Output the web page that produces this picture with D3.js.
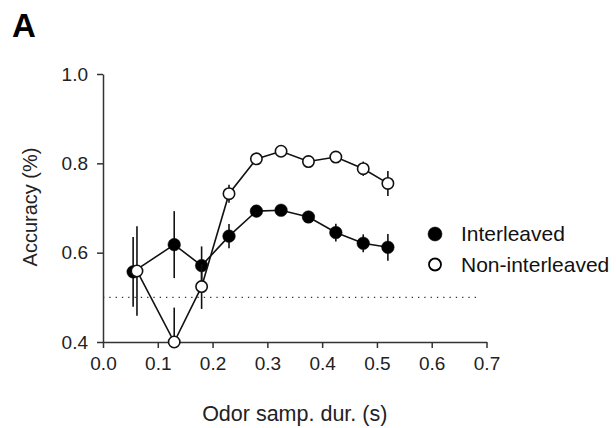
<!DOCTYPE html>
<html>
<head>
<meta charset="utf-8">
<script src="https://cdn.jsdelivr.net/npm/d3@7"></script>
<style>
  body { margin: 0; background: #fff; }
  svg { display: block; font-family: "Liberation Sans", Arial, sans-serif; }
</style>
</head>
<body>
<div id="chart"></div>
<script>
// sampling duration (s) and accuracy
var xInter = [0.055, 0.13, 0.18, 0.23, 0.28, 0.325, 0.375, 0.425, 0.475, 0.52];
var yInter = [0.557, 0.618, 0.571, 0.637, 0.693, 0.695, 0.680, 0.645, 0.621, 0.612];
var eInter = [0.078, 0.075, 0.043, 0.027, 0.012, 0.012, 0.012, 0.02, 0.02, 0.03];

var xNon = [0.062, 0.13, 0.18, 0.23, 0.28, 0.325, 0.375, 0.425, 0.475, 0.52];
var yNon = [0.559, 0.40, 0.524, 0.732, 0.810, 0.827, 0.804, 0.814, 0.788, 0.755];
var eNon = [0.10, 0.077, 0.05, 0.02, 0.01, 0.01, 0.01, 0.01, 0.016, 0.028];

var xTicks = [0, 0.1, 0.2, 0.3, 0.4, 0.5, 0.6, 0.7];
var yTicks = [0.4, 0.6, 0.8, 1.0];
var chance = 0.5;
var legendLabels = ["Interleaved", "Non-interleaved"];

var width = 616, height = 428;

var svg = d3.select("#chart").append("svg")
  .attr("width", width)
  .attr("height", height);

var x = d3.scaleLinear().domain([0, 0.7]).range([103, 486.5]);
var y = d3.scaleLinear().domain([0.4, 1.0]).range([342, 74]);

var xAxis = d3.axisBottom(x).tickValues(xTicks).tickFormat(d3.format(".1f")).tickSize(6).tickSizeOuter(0).tickPadding(9);
var yAxis = d3.axisLeft(y).tickValues(yTicks).tickFormat(d3.format(".1f")).tickSize(6).tickSizeOuter(0).tickPadding(9);

var gx = svg.append("g").attr("transform", "translate(0,342)").call(xAxis);
var gy = svg.append("g").attr("transform", "translate(103,0)").call(yAxis);

[gx, gy].forEach(function (g) {
  g.selectAll("path, line").attr("stroke", "#333").attr("stroke-width", 1.5);
  g.selectAll("text").attr("fill", "#222").style("font-size", "19px");
});

// chance line
svg.append("line")
  .attr("x1", x(0)).attr("x2", x(0.69))
  .attr("y1", y(chance)).attr("y2", y(chance))
  .attr("stroke", "#333")
  .attr("stroke-width", 1.2)
  .attr("stroke-dasharray", "1.3,5");

function drawSeries(xs, ys, es, filled) {
  var pts = xs.map(function (d, i) { return { x: d, y: ys[i], e: es[i] }; });
  var line = d3.line().x(function (d) { return x(d.x); }).y(function (d) { return y(d.y); });
  var g = svg.append("g");
  g.append("path").datum(pts)
    .attr("d", line)
    .attr("fill", "none")
    .attr("stroke", "#111")
    .attr("stroke-width", 1.6);
  // error bars stop at the axis floor
  g.selectAll(".err").data(pts).enter().append("line")
    .attr("x1", function (d) { return x(d.x); })
    .attr("x2", function (d) { return x(d.x); })
    .attr("y1", function (d) { return y(Math.max(0.4, d.y - d.e)); })
    .attr("y2", function (d) { return y(d.y + d.e); })
    .attr("stroke", "#111")
    .attr("stroke-width", 1.6);
  g.selectAll("circle").data(pts).enter().append("circle")
    .attr("cx", function (d) { return x(d.x); })
    .attr("cy", function (d) { return y(d.y); })
    .attr("r", filled ? 6.3 : 5.7)
    .attr("fill", filled ? "#000" : "#fff")
    .attr("stroke", "#111")
    .attr("stroke-width", filled ? 0.5 : 1.6);
}

drawSeries(xInter, yInter, eInter, true);
drawSeries(xNon, yNon, eNon, false);

// legend
var legend = svg.append("g");
legendLabels.forEach(function (lab, i) {
  var cy = 234 + i * 30.5;
  legend.append("circle")
    .attr("cx", 435).attr("cy", cy)
    .attr("r", i === 0 ? 7 : 6)
    .attr("fill", i === 0 ? "#000" : "#fff")
    .attr("stroke", "#000")
    .attr("stroke-width", i === 0 ? 0.5 : 1.8);
  legend.append("text")
    .attr("x", 461).attr("y", cy + 7)
    .style("font-size", "21px")
    .attr("fill", "#111")
    .text(lab);
});

// axis titles
svg.append("text")
  .attr("x", (x(0) + x(0.7)) / 2)
  .attr("y", 421)
  .attr("text-anchor", "middle")
  .style("font-size", "21.5px")
  .attr("fill", "#222")
  .text("Odor samp. dur. (s)");

svg.append("text")
  .attr("transform", "translate(37,207) rotate(-90)")
  .attr("text-anchor", "middle")
  .style("font-size", "20px")
  .attr("fill", "#222")
  .text("Accuracy (%)");

svg.append("text")
  .attr("x", 12).attr("y", 37)
  .style("font-size", "33px")
  .style("font-weight", "bold")
  .text("A");
</script>
</body>
</html>
